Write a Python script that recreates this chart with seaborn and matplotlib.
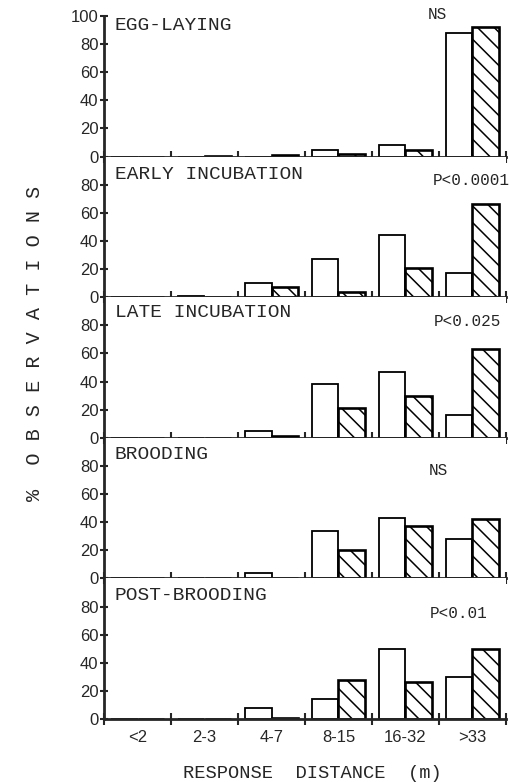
import matplotlib
matplotlib.use('Agg')
import matplotlib.pyplot as plt
import pandas as pd
import seaborn as sns

categories = ['<2', '2-3', '4-7', '8-15', '16-32', '>33']
stages = ['EGG-LAYING', 'EARLY INCUBATION', 'LATE INCUBATION', 'BROODING', 'POST-BROODING']
stats = ['NS', 'P<0.0001', 'P<0.025', 'NS', 'P<0.01']

open_vals = [
    [0, 0, 0, 4.5, 8, 88],
    [0, 0.5, 10, 27, 44, 17],
    [0, 0, 5, 38, 47, 16.5],
    [0.3, 0, 4, 34, 43, 28],
    [0, 0, 8, 14, 50, 30],
]
hatched_vals = [
    [0, 0.3, 1, 1.5, 4.5, 92],
    [0, 0, 7, 3.5, 21, 66],
    [0, 0, 1, 21.5, 30, 63],
    [0, 0, 0, 20.5, 37, 42],
    [0, 0, 0.5, 28, 26, 50],
]

# where the stat text sits: (x in data, y in data, horizontal alignment)
stat_pos = [(4.47, 101, 'center'), (5.55, 83, 'right'), (5.42, 83, 'right'),
            (4.49, 77, 'center'), (4.8, 75, 'center')]
label_y = [93, 87, 89, 88, 88]

sns.set_style('ticks')
plt.rcParams['font.family'] = ['Liberation Sans', 'DejaVu Sans']
plt.rcParams['hatch.linewidth'] = 1.1
mono = 'Liberation Mono'

fig, axes = plt.subplots(5, 1, figsize=(5.09, 7.82), dpi=100, sharex=True)
fig.subplots_adjust(left=104/509, right=506/509, top=1-16/782, bottom=63/782, hspace=0)

for i, ax in enumerate(axes):
    df = pd.DataFrame({
        'distance': categories * 2,
        'pct': open_vals[i] + hatched_vals[i],
        'group': ['a'] * 6 + ['b'] * 6,
    })
    sns.barplot(data=df, x='distance', y='pct', hue='group', order=categories,
                palette=['white', 'white'], edgecolor='black', linewidth=1.3,
                legend=False, ax=ax, width=0.8, gap=0)
    for bar in ax.containers[1]:
        bar.set_hatch('\\\\')
        bar.set_linewidth(1.9)

    ax.set_xlim(-0.5, 5.5)
    ax.set_ylim(0, 100)
    if i == 0:
        ax.set_yticks([0, 20, 40, 60, 80, 100])
    else:
        ax.set_yticks([0, 20, 40, 60, 80])
    ax.set_xticks([k - 0.5 for k in range(7)])
    ax.set_xticklabels([])
    ax.set_xticks(range(6), minor=True)
    ax.tick_params(axis='x', which='major', direction='inout', length=9, width=1.5)
    ax.tick_params(axis='x', which='minor', length=0)
    ax.tick_params(axis='y', direction='inout', length=6, width=1.5, labelsize=12, pad=1)
    for s in ['top', 'right']:
        ax.spines[s].set_visible(False)
    ax.spines['left'].set_linewidth(2)
    ax.spines['bottom'].set_linewidth(2)
    ax.set_xlabel('')
    ax.set_ylabel('')

    ax.text(0.027, label_y[i], stages[i], transform=ax.get_yaxis_transform(),
            family=mono, fontsize=14, va='center', ha='left')
    sx, sy, sha = stat_pos[i]
    ax.text(sx, sy, stats[i], family=mono, fontsize=11.5, va='center', ha=sha)

axes[-1].set_xticklabels(categories, minor=True, fontsize=12)
axes[-1].tick_params(axis='x', which='minor', pad=8)

fig.text(312/509, 1-773/782, 'RESPONSE  DISTANCE  (m)', family=mono, fontsize=13.5,
         ha='center', va='center')
fig.text(35/509, 1-343/782, '%  O B S E R V A T I O N S', family=mono, fontsize=14.5,
         rotation=90, ha='center', va='center')

fig.savefig('out.png', dpi=100)
